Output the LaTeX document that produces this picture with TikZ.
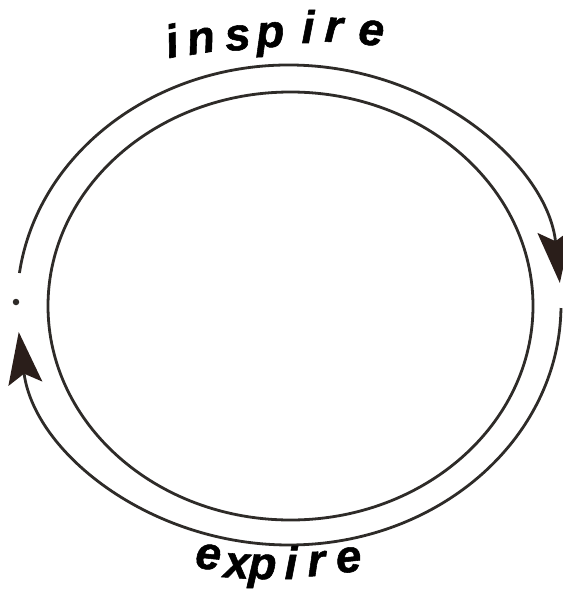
\documentclass[tikz,border=0pt]{standalone}
\usepackage{fontspec}
\setmainfont{Liberation Sans}
\newfontfamily\heavyfont{Liberation Sans Bold Italic}[FakeBold=1.2]
\usetikzlibrary{arrows.meta}
\definecolor{ink}{HTML}{2E2B28}
\definecolor{tipc}{HTML}{2A1E1A}
\begin{document}
\begin{tikzpicture}[x=1bp,y=-1bp,
  ring/.style={draw=ink, line width=2.8bp},
  flow/.style={ring, -{Stealth[length=52bp,width=34bp,inset=10bp,color=tipc,fill=tipc]}},
  lettr/.style={font=\fontsize{46}{46}\heavyfont, inner sep=0pt, anchor=base, text=black}]
\useasboundingbox (0,0) rectangle (563,595);
\fill[white] (0,0) rectangle (563,595);
\coordinate (c) at (289,305);
\coordinate (ci) at (290.5,306);
% inner ring
\draw[ring] (ci) ellipse [x radius=242.5, y radius=214];
% outer arcs with arrows
\draw[flow] (c) ++(187.66:272 and 240) coordinate (ua)
  arc[start angle=187.66, end angle=354.74, x radius=272, y radius=240] coordinate (ub);
\draw[flow] (c) ++(0.72:272 and 240) coordinate (la)
  arc[start angle=0.72, end angle=173.54, x radius=272, y radius=240] coordinate (lb);
% dot
\node[circle, fill=ink, inner sep=0pt, minimum size=6.5bp] (dot) at (16,302) {};
% inspire
\node[lettr, rotate=12] (i1) at (175,57) {i};
\node[lettr, rotate=9] (i2) at (203,53) {n};
\node[lettr, rotate=6] (i3) at (239,50) {s};
\node[lettr, rotate=3] (i4) at (271,47) {p};
\node[lettr, rotate=0] (i5) at (308,43) {i};
\node[lettr, rotate=-3] (i6) at (333,42) {r};
\node[lettr, rotate=-6] (i7) at (370,45) {e};
% expire
\node[lettr, rotate=-6] (e1) at (207,569) {e};
\node[lettr, rotate=-4] (e2) at (236,578) {x};
\node[lettr, rotate=-2] (e3) at (262,579) {p};
\node[lettr, rotate=0] (e4) at (291,579) {i};
\node[lettr, rotate=3] (e5) at (317,576) {r};
\node[lettr, rotate=6] (e6) at (350,572) {e};
\end{tikzpicture}
\end{document}
